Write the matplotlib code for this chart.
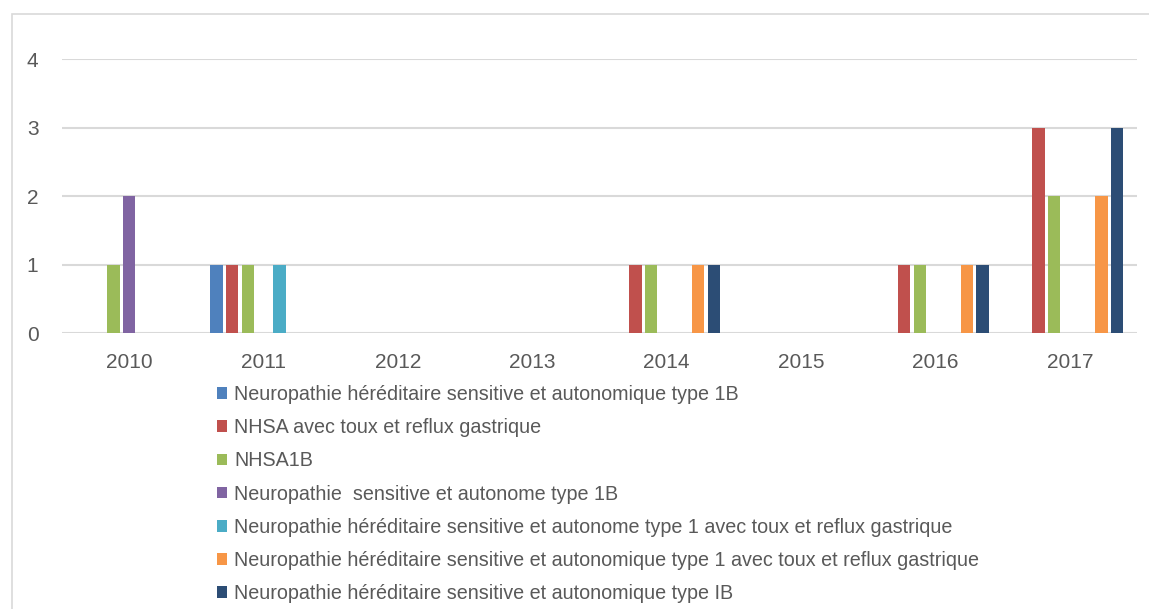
import numpy as np
import matplotlib.pyplot as plt
from matplotlib.patches import Rectangle

years = ["2010", "2011", "2012", "2013", "2014", "2015", "2016", "2017"]

labels = [
    "Neuropathie héréditaire sensitive et autonomique type 1B",
    "NHSA avec toux et reflux gastrique",
    "NHSA1B",
    "Neuropathie  sensitive et autonome type 1B",
    "Neuropathie héréditaire sensitive et autonome type 1 avec toux et reflux gastrique",
    "Neuropathie héréditaire sensitive et autonomique type 1 avec toux et reflux gastrique",
    "Neuropathie héréditaire sensitive et autonomique type IB",
]

s1 = [0, 1, 0, 0, 0, 0, 0, 0]
s2 = [0, 1, 0, 0, 1, 0, 1, 3]
s3 = [1, 1, 0, 0, 1, 0, 1, 2]
s4 = [2, 0, 0, 0, 0, 0, 0, 0]
s5 = [0, 1, 0, 0, 0, 0, 0, 0]
s6 = [0, 0, 0, 0, 1, 0, 1, 2]
s7 = [0, 0, 0, 0, 1, 0, 1, 3]
series = [s1, s2, s3, s4, s5, s6, s7]

colors = ["#4F81BD", "#C0504D", "#9BBB59", "#8064A2", "#4BACC6", "#F79646", "#2C4D75"]

plt.rcParams["font.family"] = ["Liberation Sans", "DejaVu Sans"]

fig = plt.figure(figsize=(11.49, 6.09), dpi=100)
ax = fig.add_axes([0.054, 0.453, 0.9356, 0.4496])

# chart frame (light grey border, open on the right/bottom)
fig.patches.append(Rectangle((11.5 / 1149, -0.01), 1.0, 1 - 13.5 / 609 + 0.01,
                             transform=fig.transFigure, fill=False,
                             edgecolor="#d9d9d9", linewidth=1.2))

x = np.arange(len(years))
step = 0.117
width = 0.093
for i, (vals, col, lab) in enumerate(zip(series, colors, labels)):
    ax.bar(x + (i - 3) * step, vals, width, color=col, label=lab, linewidth=0)

ax.set_xlim(-0.5, len(years) - 0.5)
ax.set_ylim(0, 4)
ax.set_yticks([0, 1, 2, 3, 4])
ax.set_xticks(x)
ax.set_xticklabels(years)
ax.yaxis.grid(True, color="#d9d9d9", linewidth=1.5)
ax.set_axisbelow(True)
for sp in ax.spines.values():
    sp.set_visible(False)
ax.tick_params(axis="both", length=0, labelsize=15, colors="#595959")
ax.tick_params(axis="y", pad=17)
ax.tick_params(axis="x", pad=14)

leg = fig.legend(loc="upper left", bbox_to_anchor=(217 / 1149, 1 - 385 / 609),
                 frameon=False, fontsize=14.2, handlelength=0.52, handleheight=0.52,
                 handletextpad=0.35, labelspacing=0.72, borderaxespad=0, borderpad=0)
for t in leg.get_texts():
    t.set_color("#595959")

fig.savefig("out.png", dpi=100)
